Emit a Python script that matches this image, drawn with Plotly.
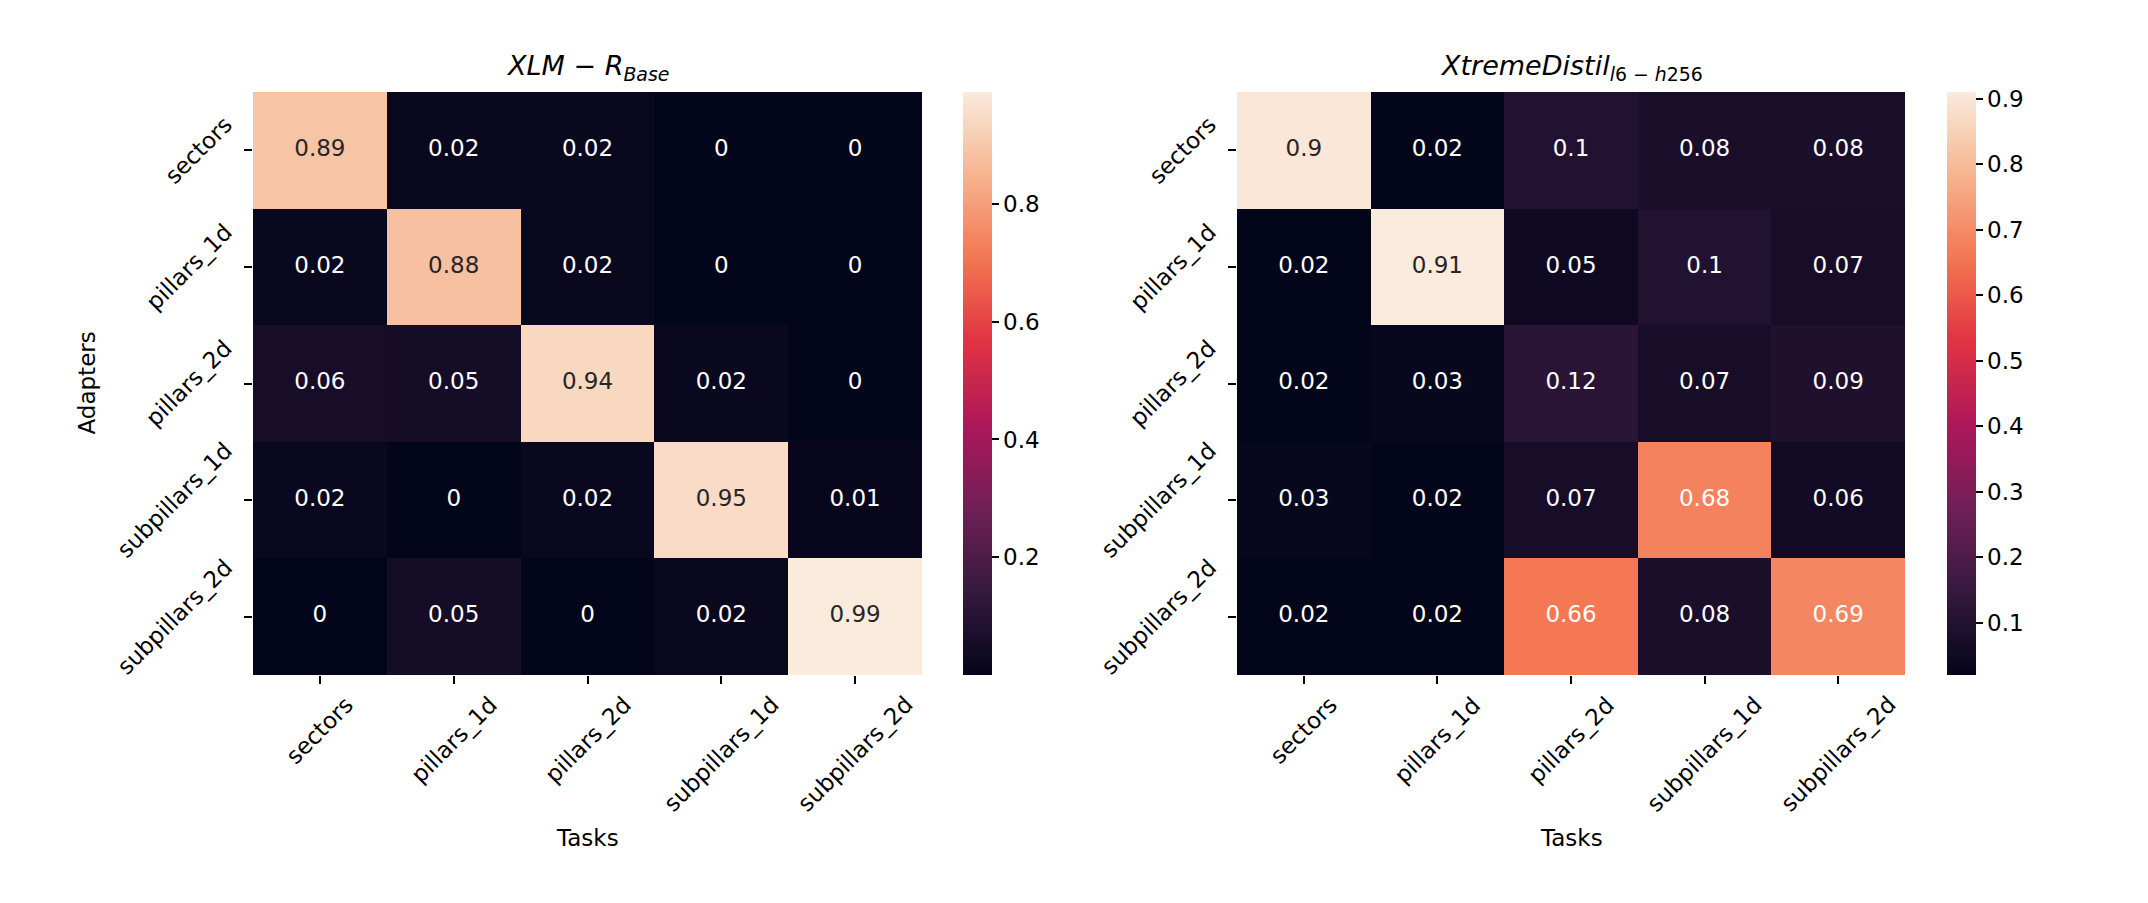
import plotly.graph_objects as go

tasks = ["sectors", "pillars_1d", "pillars_2d", "subpillars_1d", "subpillars_2d"]
adapters = ["sectors", "pillars_1d", "pillars_2d", "subpillars_1d", "subpillars_2d"]

xlmr_values = [
    [0.89, 0.02, 0.02, 0.00, 0.00],
    [0.02, 0.88, 0.02, 0.00, 0.00],
    [0.06, 0.05, 0.94, 0.02, 0.00],
    [0.02, 0.00, 0.02, 0.95, 0.01],
    [0.00, 0.05, 0.00, 0.02, 0.99],
]
xtreme_values = [
    [0.90, 0.02, 0.10, 0.08, 0.08],
    [0.02, 0.91, 0.05, 0.10, 0.07],
    [0.02, 0.03, 0.12, 0.07, 0.09],
    [0.03, 0.02, 0.07, 0.68, 0.06],
    [0.02, 0.02, 0.66, 0.08, 0.69],
]
xlmr_ticks = [0.2, 0.4, 0.6, 0.8]
xtreme_ticks = [0.1, 0.2, 0.3, 0.4, 0.5, 0.6, 0.7, 0.8, 0.9]

rocket = [
    [0.0, "#03051a"],
    [1 / 7, "#35193e"],
    [2 / 7, "#701f57"],
    [3 / 7, "#ad1759"],
    [4 / 7, "#e13342"],
    [5 / 7, "#f37651"],
    [6 / 7, "#f6b48f"],
    [1.0, "#faebdd"],
]

W, H = 2148, 903
OFF = 8  # page body margin
FONT = "DejaVu Sans"
FS = 23


def hex2rgb(h):
    h = h.lstrip("#")
    return [int(h[i:i + 2], 16) / 255 for i in (0, 2, 4)]


def cmap(t):
    t = min(max(t, 0), 1)
    for (a, ca), (b, cb) in zip(rocket[:-1], rocket[1:]):
        if a <= t <= b:
            f = (t - a) / (b - a) if b > a else 0
            ra, rb = hex2rgb(ca), hex2rgb(cb)
            return [ra[i] + (rb[i] - ra[i]) * f for i in range(3)]
    return hex2rgb(rocket[-1][1])


def lum(rgb):
    lin = [c / 12.92 if c <= 0.03928 else ((c + 0.055) / 1.055) ** 2.4 for c in rgb]
    return 0.2126 * lin[0] + 0.7152 * lin[1] + 0.0722 * lin[2]


def px_x(p):
    return (p - OFF) / W


def px_y(p):
    return 1 - (p - OFF) / H


# heatmap boxes (pixels, page coordinates)
top, bottom = 92, 675
boxes = [(253, 922, 963), (1237, 1905, 1947)]

fig = go.Figure()
annotations = []

panels = [
    (xlmr_values, xlmr_ticks, "<i>XLM</i> − <i>R</i><sub><i>Base</i></sub>", True),
    (xtreme_values, xtreme_ticks, "<i>XtremeDistil</i><sub><i>l</i>6 − <i>h</i>256</sub>", False),
]

for k, (vals, cticks, title, show_ylab) in enumerate(panels):
    xa = "x" if k == 0 else "x2"
    ya = "y" if k == 0 else "y2"
    flat = [v for row in vals for v in row]
    zmin, zmax = min(flat), max(flat)
    x0, x1, cbx = boxes[k]
    fig.add_trace(go.Heatmap(
        z=vals, x=tasks, y=adapters, xaxis=xa, yaxis=ya,
        colorscale=rocket, zmin=zmin, zmax=zmax, xgap=0, ygap=0,
        hoverinfo="skip",
        colorbar=dict(
            x=px_x(cbx), xanchor="left", xpad=0, ypad=0,
            y=px_y(bottom), yanchor="bottom", len=(bottom - top) / H, lenmode="fraction",
            thickness=29, outlinewidth=0, tickvals=cticks,
            ticktext=[f"{t:g}" for t in cticks],
            ticks="outside", ticklen=7, tickwidth=1.6, tickcolor="black",
            tickfont=dict(family=FONT, size=FS, color="black"),
        ),
    ))
    # cell annotations
    xs, ys, txt, cols = [], [], [], []
    for i, a in enumerate(adapters):
        for j, t in enumerate(tasks):
            v = vals[i][j]
            xs.append(t)
            ys.append(a)
            txt.append(f"{v:g}")
            c = cmap((v - zmin) / (zmax - zmin))
            cols.append("#262626" if lum(c) > 0.408 else "white")
    fig.add_trace(go.Scatter(
        x=xs, y=ys, xaxis=xa, yaxis=ya, mode="text", text=txt,
        textfont=dict(family=FONT, size=FS, color=cols),
        textposition="middle center", hoverinfo="skip", showlegend=False,
    ))
    dom_x = [px_x(x0), px_x(x1)]
    dom_y = [px_y(bottom), px_y(top)]
    axis_common = dict(showgrid=False, zeroline=False, showline=False,
                       ticks="outside", ticklen=8, tickwidth=1.6, tickcolor="black",
                       showticklabels=False, range=[-0.5, 4.5])
    xkey = "xaxis" if k == 0 else "xaxis2"
    ykey = "yaxis" if k == 0 else "yaxis2"
    fig.update_layout(**{
        xkey: dict(domain=dom_x, anchor=ya, type="category", **axis_common),
        ykey: dict(domain=dom_y, anchor=xa, type="category", autorange=False,
                   **{**axis_common, "range": [4.5, -0.5]}),
    })
    # tick labels
    for t in tasks:
        annotations.append(dict(
            x=t, xref=xa, y=px_y(bottom + 14), yref="paper",
            text=t, showarrow=False, textangle=-45,
            xanchor="center", yanchor="top",
            font=dict(family=FONT, size=FS, color="black"),
        ))
    for a in adapters:
        annotations.append(dict(
            x=px_x(x0 - 13), xref="paper", y=a, yref=ya,
            text=a, showarrow=False, textangle=-45,
            xanchor="right", yanchor="middle",
            font=dict(family=FONT, size=FS, color="black"),
        ))
    # title
    annotations.append(dict(
        x=px_x((x0 + x1) / 2), xref="paper", y=px_y(68), yref="paper",
        text=title, showarrow=False, xanchor="center", yanchor="middle",
        font=dict(family=FONT, size=27, color="black"),
    ))
    # x axis title
    annotations.append(dict(
        x=px_x((x0 + x1) / 2), xref="paper", y=px_y(838), yref="paper",
        text="Tasks", showarrow=False, xanchor="center", yanchor="middle",
        font=dict(family=FONT, size=FS, color="black"),
    ))
    if show_ylab:
        annotations.append(dict(
            x=px_x(86), xref="paper", y=px_y((top + bottom) / 2), yref="paper",
            text="Adapters", showarrow=False, textangle=-90,
            xanchor="center", yanchor="middle",
            font=dict(family=FONT, size=FS, color="black"),
        ))

fig.update_layout(
    width=W, height=H,
    margin=dict(l=0, r=0, t=0, b=0),
    paper_bgcolor="white", plot_bgcolor="white",
    showlegend=False,
    annotations=annotations,
)

fig.write_html("out.html")
